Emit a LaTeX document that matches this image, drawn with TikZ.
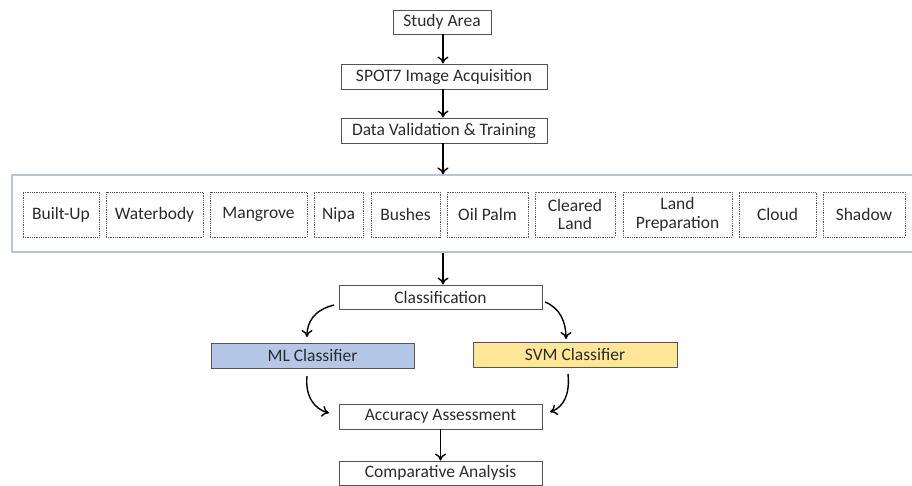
\documentclass[tikz,border=0pt]{standalone}
\usepackage{fontspec}
\setmainfont{Carlito}
\usetikzlibrary{arrows.meta}
\definecolor{txt}{HTML}{2B2B2B}
\definecolor{edge}{HTML}{555555}
\definecolor{cont}{HTML}{B9C6D0}
\definecolor{mlfill}{HTML}{B4C7E7}
\definecolor{svmfill}{HTML}{FFE699}
\tikzset{
  stepbox/.style={draw=edge, line width=0.9pt, text=txt, inner sep=0pt, align=center, font=\fontsize{17.5}{19}\selectfont},
  classbox/.style={draw=edge, line width=0.8pt, densely dotted, text=txt, inner sep=0pt, align=center, minimum height=45pt, font=\fontsize{17.5}{18.5}\selectfont},
  arr/.style={-{To[length=7pt,width=11pt]}, line width=1.4pt, black},
}
\begin{document}
\begin{tikzpicture}[x=1pt,y=-1pt]
\useasboundingbox (0,0) rectangle (912,486);
% top chain
\node[stepbox, minimum width=98pt, minimum height=24pt] (study) at (442,22) {Study Area};
\node[stepbox, minimum width=206pt, minimum height=25pt] (spot) at (444,76.5) {SPOT7 Image Acquisition};
\node[stepbox, minimum width=206pt, minimum height=25pt] (valid) at (444,130.5) {Data Validation \& Training};
% container
\node[draw=cont, line width=1.2pt, minimum width=904pt, minimum height=77pt, inner sep=0pt] (cont) at (464,213.5) {};
% classes
\node[classbox, minimum width=76pt] (c1) at (61,214.5) {Built-Up};
\node[classbox, minimum width=97pt] (c2) at (154.5,214.5) {Waterbody};
\node[classbox, minimum width=97pt] (c3) at (258.5,214.5) {Mangrove};
\node[classbox, minimum width=49pt] (c4) at (338.5,214.5) {Nipa};
\node[classbox, minimum width=69pt] (c5) at (405.5,214.5) {Bushes};
\node[classbox, minimum width=81pt] (c6) at (487.5,214.5) {Oil Palm};
\node[classbox, minimum width=80pt] (c7) at (575,214.5) {Cleared\\Land};
\node[classbox, minimum width=109pt] (c8) at (677.5,214.5) {Land\\Preparation};
\node[classbox, minimum width=77pt] (c9) at (777.5,214.5) {Cloud};
\node[classbox, minimum width=82pt] (c10) at (864,214.5) {Shadow};
% lower chain
\node[stepbox, minimum width=203pt, minimum height=24pt] (cls) at (440.5,297) {Classification};
\node[stepbox, fill=mlfill, minimum width=203pt, minimum height=25pt] (ml) at (312.5,355.5) {ML Classifier};
\node[stepbox, fill=svmfill, minimum width=204pt, minimum height=25pt] (svm) at (575,354.5) {SVM Classifier};
\node[stepbox, minimum width=203pt, minimum height=25pt] (acc) at (440.5,416.5) {Accuracy Assessment};
\node[stepbox, minimum width=203pt, minimum height=24pt] (comp) at (440.5,473) {Comparative Analysis};
% straight arrows
\coordinate (ax) at (443,0);
\draw[arr] (ax |- study.south) -- (ax |- spot.north);
\draw[arr] (ax |- spot.south) -- (ax |- valid.north);
\draw[arr] (ax |- valid.south) -- (ax |- cont.north);
\draw[arr] (ax |- cont.south) -- (ax |- cls.north);
\draw[arr] (acc.south) -- (comp.north);
% curved arrows
\coordinate (l1) at (334,305);
\coordinate (l2) at (307,337);
\coordinate (r1) at (545,302);
\coordinate (r2) at (566,339);
\coordinate (ml1) at (307,376);
\coordinate (ml2) at (329,413);
\coordinate (sv1) at (568,374);
\coordinate (sv2) at (550,412);
\draw[arr] (l1) .. controls (314,310) and (307,322) .. (l2);
\draw[arr] (r1) .. controls (560,308) and (566,322) .. (r2);
\draw[arr] (ml1) .. controls (305,396) and (314,409) .. (ml2);
\draw[arr] (sv1) .. controls (570,394) and (564,407) .. (sv2);
\end{tikzpicture}
\end{document}
